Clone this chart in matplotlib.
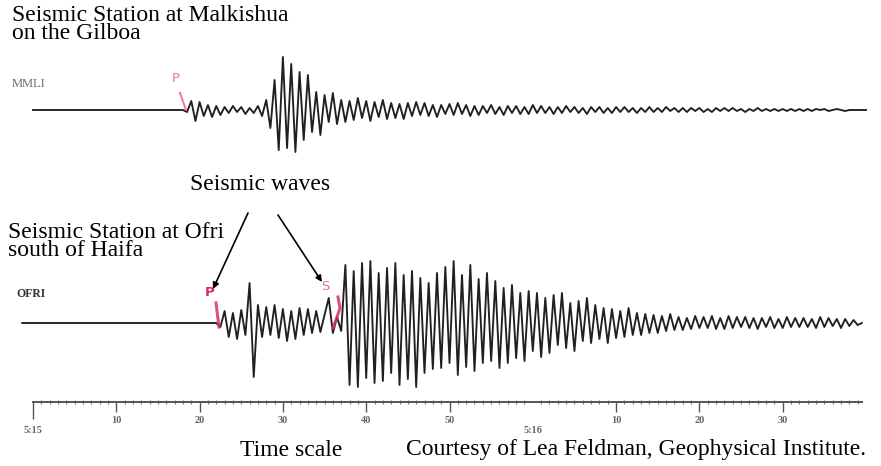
import numpy as np
import matplotlib
matplotlib.use("Agg")
import matplotlib.pyplot as plt

plt.rcParams['font.family'] = ['Liberation Serif', 'DejaVu Serif']

# sampling of the hand-read traces (seconds after 5:15:00)
DT = 0.5
MMLI_START = 18.0
OFRI_START = 22.0
MMLI_FLAT_FROM = 0.0
OFRI_FLAT_FROM = -1.3

# MMLI trace, peak deflections in pixels (up = positive), read every 0.5 s
mmli = [
    -2, 9, -11, 8, -6, 5, -7, 4, -5, 3,
    -3, 4, -2, 3, -4, 2, -3, 4, -6, 10,
    -18, 30, -40, 53, -38, 46, -42, 38, -30, 35,
    -22, 18, -25, 15, -12, 17, -14, 10, -12, 9,
    -10, 12, -8, 9, -11, 8, -7, 10, -9, 7,
    -8, 6, -9, 7, -6, 8, -5, 7, -6, 5,
    -7, 5, -4, 6, -5, 7, -4, 5, -6, 4,
    -5, 4, -3, 5, -4, 3, -5, 4, -3, 4,
    -4, 3, -4, 5, -3, 4, -3, 3, -4, 3,
    -3, 4, -2, 3, -3, 2, -4, 3, -2, 3,
    -3, 2, -3, 3, -2, 3, -2, 2, -3, 2,
    -2, 3, -2, 2, -2, 3, -1, 2, -2, 2,
    -2, 2, -1, 2, -2, 1, -2, 2, -1, 2,
    -1, 2, -1, 1, -2, 1, -1, 2, -1, 1,
    -1, 1, -1, 1, -1, 1, -1, 1, -1, 1,
    -1, 1, 0, 1, -1, 0, 1, 0, -1, 0,
    0, 0, 0, 0,
]

# OFRI trace, peak deflections in pixels, read every 0.5 s
ofri = [
    -4, 12, -14, 10, -16, 13, -12, 40, -54, 18,
    -14, 16, -12, 18, -15, 14, -18, 12, -16, 15,
    -12, 14, -10, 12, -9, 8, 25, -10, 6, -8,
    58, -62, 52, -64, 60, -55, 62, -60, 50, -58,
    55, -50, 60, -62, 48, -56, 52, -64, 45, -50,
    40, -46, 50, -45, 56, -40, 62, -52, 48, -44,
    58, -48, 44, -40, 50, -38, 42, -45, 35, -40,
    38, -35, 30, -38, 32, -28, 30, -34, 25, -30,
    28, -22, 30, -25, 20, -28, 22, -18, 25, -20,
    18, -16, 15, -20, 14, -15, 12, -14, 15, -12,
    10, -12, 9, -10, 8, -10, 7, -8, 9, -7,
    6, -7, 5, -6, 7, -5, 6, -5, 7, -6,
    5, -6, 7, -5, 6, -4, 6, -5, 5, -6,
    5, -4, 6, -5, 4, -5, 6, -4, 5, -4,
    5, -4, 4, -5, 6, -4, 5, -3, 4, -5,
    4, -3, 3, -2, 0,
]

MMLI_BASE = 110
OFRI_BASE = 323
AXIS_Y = 402

major_ticks = [0, 10, 20, 30, 40, 50, 60, 70, 80, 90]
major_labels = ["\n5:15", "10", "20", "30", "40", "50", "\n5:16", "10", "20", "30"]

W, H = 881, 466
X0, PXS = 33, 8.33   # pixel of 5:15:00 and pixels per second

fig = plt.figure(figsize=(W / 100, H / 100), dpi=100)
ax = fig.add_axes([0, 0, 1, 1])
ax.set_xlim(-X0 / PXS, (W - X0) / PXS)
ax.set_ylim(H, 0)


def tx(px):
    return (px - X0) / PXS


def trace(start, flat_from, vals, base):
    t = np.concatenate([[flat_from, start], start + DT * np.arange(1, len(vals) + 1)])
    y = np.concatenate([[0, 0], vals])
    ax.plot(t, base - y, color='#202020', lw=1.35, solid_joinstyle='round')


trace(MMLI_START, MMLI_FLAT_FROM, mmli, MMLI_BASE)
trace(OFRI_START, OFRI_FLAT_FROM, ofri, OFRI_BASE)

# time scale
for s in ['top', 'left', 'right']:
    ax.spines[s].set_visible(False)
ax.spines['bottom'].set_position(('data', AXIS_Y))
ax.spines['bottom'].set_bounds(0, 99.5)
ax.spines['bottom'].set_color('#555555')
ax.spines['bottom'].set_linewidth(1.4)
ax.set_yticks([])
ax.set_xticks(major_ticks)
ax.set_xticklabels(major_labels, fontsize=7.5, fontweight='bold', color='#666666',
                   linespacing=1.2)
ax.set_xticks(np.arange(0, 100, 1), minor=True)
ax.tick_params(axis='x', which='major', length=7, width=1.0, color='#555555', pad=3)
ax.tick_params(axis='x', which='minor', length=3.5, width=0.8, color='#777777', direction='inout')
mt = ax.xaxis.get_major_ticks()
mt[0].tick1line.set_markersize(12)
mt[6].tick1line.set_visible(False)

# station labels
big = 17
ax.text(tx(12), 5, "Seismic Station at Malkishua\non the Gilboa", fontsize=big,
        va='top', ha='left', linespacing=0.82)
ax.text(tx(8), 222, "Seismic Station at Ofri\nsouth of Haifa", fontsize=big,
        va='top', ha='left', linespacing=0.82)
ax.text(tx(12), 84, "MMLI", fontsize=9, color='#6a6a6a', va='center')
ax.text(tx(16), 294, "OFRI", fontsize=8.5, fontweight='bold', color='#333333', va='center')

ax.text(tx(260), 185, "Seismic waves", fontsize=big, ha='center', va='center')
ax.text(tx(240), 450, "Time scale", fontsize=big, ha='left', va='center')
ax.text(tx(866), 450, "Courtesy of Lea Feldman, Geophysical Institute.", fontsize=big,
        ha='right', va='center')

# phase picks
ax.text(tx(176), 78, "P", fontsize=9.5, color='#e07a95', ha='center', va='center', family='DejaVu Sans')
ax.plot([tx(180), tx(186)], [93, 110], color='#e06085', lw=1.5, alpha=0.8)
ax.text(tx(210), 292, "P", fontsize=9.5, fontweight='bold', color='#d42a6a', ha='center', va='center',
        family='DejaVu Sans')
ax.plot([tx(216), tx(219)], [303, 327], color='#d8306c', lw=2.2, alpha=0.85)
ax.text(tx(325), 287, "S", fontsize=9.5, color='#e07090', ha='center', va='center', family='DejaVu Sans')
ax.plot([tx(338), tx(340), tx(336), tx(333)], [297, 308, 320, 328], color='#d8306c', lw=2.2, alpha=0.85)

# arrows
arw = dict(arrowstyle='-|>', color='black', lw=1.2, mutation_scale=9, shrinkA=0, shrinkB=0)
ax.annotate("", xy=(tx(213), 289), xytext=(tx(248), 213), arrowprops=arw)
ax.annotate("", xy=(tx(322), 282), xytext=(tx(278), 215), arrowprops=arw)

fig.savefig("out.png", dpi=100, facecolor='white')
